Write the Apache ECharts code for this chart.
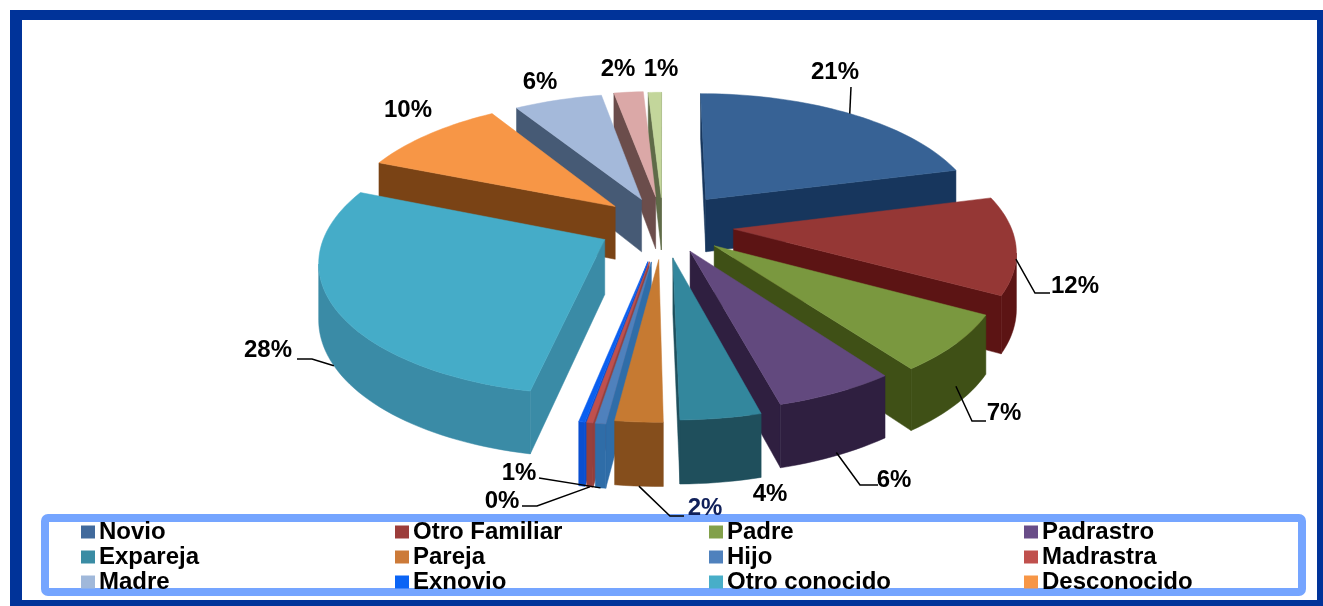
<!DOCTYPE html>
<html><head><meta charset="utf-8">
<style>html,body{margin:0;padding:0;background:#fff}#c{width:1323px;height:606px}</style>
<script src="https://cdn.jsdelivr.net/npm/echarts@6/dist/echarts.min.js"></script>
</head><body><div id="c"></div>
<script>
// ---- data
const categories = ['Novio','Otro Familiar','Padre','Padrastro','Expareja','Pareja','Hijo','Madrastra','Exnovio','Otro conocido','Desconocido','Madre','Otro','Otros'];
const values     = [21,12,7,5.9,3.9,2.3,0.5,0.3,0.3,28,10,6,2,0.9];
const labels     = ['21%','12%','7%','6%','4%','2%','1%','0%','','28%','10%','6%','2%','1%'];
const legendColumns = [['Novio','Expareja','Madre'],['Otro Familiar','Pareja','Exnovio'],['Padre','Hijo','Otro conocido'],['Padrastro','Madrastra','Desconocido']];
const legendLeft = [81,395,709,1024];
// ---- styles
const topColors  = ['#376295','#953735','#7a983f','#62497e','#33879d','#c67a32','#4f81bd','#c0504d','#0a5ff0','#45acc8','#f79646','#a4b9da','#dba8a7','#c3d69b'];
const wallColors = ['#17365d','#5c1414','#3f5016','#2f1f40','#1f4f5c','#854e1c','#2f6da8','#96403c','#0a4fd0','#3a8ba6','#7a4315','#465a75','#6b4d4b','#5f6b48'];
const legendColors = {Novio:'#416a9c','Otro Familiar':'#9c3d3b',Padre:'#82a04a',Padrastro:'#694d88',Expareja:'#3a8ca4',Pareja:'#cc7a38',Hijo:'#4f81bd',Madrastra:'#c0504d',Madre:'#a0b8da',Exnovio:'#0a64f5','Otro conocido':'#48aec8',Desconocido:'#f79646'};
const labelPos = [[835,72],[1075,286],[1004,413],[894,480],[770,494],[705,508],[519,473],[502,501],null,[268,350],[408,110],[540,82],[618,69],[661,69]];
const leaderZ  = [0,0.25,0.7,0.95,null,1,1,1,null,1,null,null,null,null];
const leaderPts = [[[851,87]],[[1035,293],[1050,293]],[[972,421],[986,421]],[[860,485],[878,485]],null,[[670,516],[684,516]],[[539,478]],[[537,506],[522,506]],null,[[312,359],[297,359]],null,null,null,null];
// ---- projection of the tilted, exploded pie
const cx=663, cy=225, R=277, A=128, P=0.145, D=54;
const explode = [0.26,0.255,0.24,0.22,0.25,0.26,0.28,0.28,0.28,0.235,0.23,0.22,0.23,0.22];
const total = values.reduce((a,b)=>a+b,0);
const starts=[]; values.reduce((acc,v,i)=>{starts[i]=acc; return acc+v;},0);
function proj(u,v,z){const s=1/(1-P*v);return [cx+R*u*s, cy+A*v*s+z*D*(1+0.15*v)];}
function area(p){let a=0;for(let i=0;i<p.length;i++){const q=p[(i+1)%p.length];a+=p[i][0]*q[1]-q[0]*p[i][1];}return a/2;}
function geom(i){
  const a0=starts[i]/total*2*Math.PI, a1=(starts[i]+values[i])/total*2*Math.PI, m=(a0+a1)/2;
  return {a0,a1,m,ox:explode[i]*Math.sin(m),oy:-explode[i]*Math.cos(m)};
}
function sliceChildren(i){
  const g=geom(i), n=Math.max(4,Math.ceil((g.a1-g.a0)/0.03)), arc=[];
  for(let k=0;k<=n;k++){const t=g.a0+(g.a1-g.a0)*k/n;arc.push([g.ox+Math.sin(t),g.oy-Math.cos(t)]);}
  const P0=(a,z)=>proj(a[0],a[1],z), apex=[g.ox,g.oy], kids=[];
  const poly=(pts,fill)=>({type:'polygon',shape:{points:pts},style:{fill:fill,stroke:fill,lineWidth:0.5}});
  // radial faces: drawn only when they look at the camera
  const f1=[P0(apex,0),P0(arc[0],0),P0(arc[0],1),P0(apex,1)];
  const f2=[P0(arc[n],0),P0(apex,0),P0(apex,1),P0(arc[n],1)];
  [f1,f2].forEach(f=>{if(area(f)<0) kids.push(poly(f,wallColors[i]));});
  // outer wall, front-facing runs only
  let run=null; const runs=[];
  for(let k=0;k<n;k++){
    const q=[P0(arc[k],0),P0(arc[k+1],0),P0(arc[k+1],1),P0(arc[k],1)];
    if(area(q)<0){ if(!run){run=[k];runs.push(run);} run[1]=k+1; } else run=null;
  }
  runs.forEach(r=>{const up=[],dn=[];for(let k=r[0];k<=r[1];k++){up.push(P0(arc[k],0));dn.unshift(P0(arc[k],1));}kids.push(poly(up.concat(dn),wallColors[i]));});
  // top
  kids.push(poly([P0(apex,0)].concat(arc.map(a=>P0(a,0))),topColors[i]));
  // leader + label
  if(leaderPts[i]){
    const r=[g.ox+Math.sin(g.m),g.oy-Math.cos(g.m)];
    kids.push({type:'polyline',shape:{points:[P0(r,leaderZ[i])].concat(leaderPts[i])},style:{stroke:'#000',lineWidth:1.5,fill:null},z2:50});
  }
  return kids;
}
function labelChild(i){
  return labelPos[i]?{type:'text',style:{text:labels[i],x:labelPos[i][0],y:labelPos[i][1],align:'center',verticalAlign:'middle',fill:i===5?'#10205a':'#000',font:'bold 24px "Liberation Sans",Arial,sans-serif'},z2:60}:null;
}
// painter's order: far slices first
const depth=values.map((v,i)=>{const g=geom(i);return -Math.cos(g.m);});
const order=values.map((v,i)=>i).sort((a,b)=>depth[a]-depth[b]);
const series=categories.map((name,i)=>({
  type:'custom',name:name,coordinateSystem:'none',data:[values[i]],silent:true,animation:false,
  z:5+order.indexOf(i)/10,clip:false,
  itemStyle:{color:legendColors[name]||topColors[i]},
  renderItem:function(params,api){
    const c=sliceChildren(i),l=labelChild(i); if(l)c.push(l);
    return {type:'group',children:c};
  }
}));
const chart=echarts.init(document.getElementById('c'),null,{renderer:'canvas'});
chart.setOption({
  animation:false,backgroundColor:'#fff',
  legend:legendColumns.map((names,c)=>({
    show:true,orient:'vertical',left:legendLeft[c],top:520,data:names,selectedMode:false,
    icon:'rect',itemWidth:14,itemHeight:13,itemGap:1,padding:0,align:'left',z:20,
    textStyle:{color:'#000',fontFamily:'"Liberation Sans",Arial,sans-serif',fontWeight:'bold',fontSize:24,padding:[0,0,0,-1],lineHeight:19}
  })),
  graphic:[
    {type:'rect',z:1,shape:{x:10,y:10,width:12,height:596},style:{fill:'#003399'}},
    {type:'rect',z:1,shape:{x:10,y:10,width:1313,height:10},style:{fill:'#003399'}},
    {type:'rect',z:1,shape:{x:1317,y:10,width:6,height:596},style:{fill:'#003399'}},
    {type:'rect',z:1,shape:{x:10,y:600,width:1313,height:6},style:{fill:'#003399'}},
    {type:'rect',z:2,shape:{x:45,y:518,width:1257,height:74,r:3},style:{fill:'#fff',stroke:'#75a5ff',lineWidth:8}}
  ],
  series:series
});
</script></body></html>
